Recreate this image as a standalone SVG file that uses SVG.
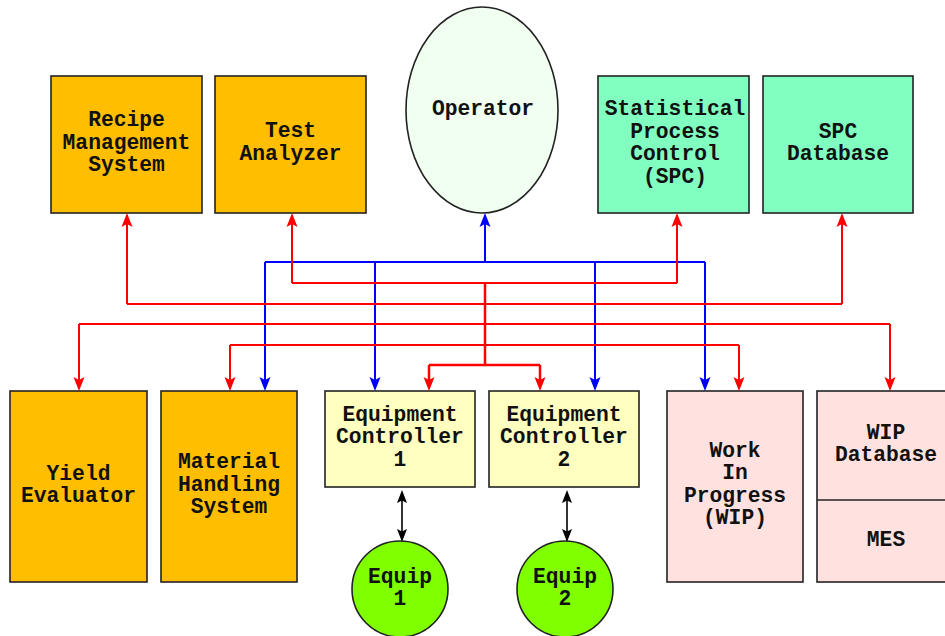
<svg xmlns="http://www.w3.org/2000/svg" width="945" height="636" viewBox="0 0 945 636">
<style>
.n{stroke:#222;stroke-width:1.6}
.org{fill:#FFBF00}
.grn{fill:#80FFC0}
.yel{fill:#FFFFC0}
.pnk{fill:#FFE2E0}
.t{font-family:"Liberation Mono","Courier New",monospace;font-weight:bold;font-size:21.3px;fill:#111;text-anchor:middle}
.r{fill:none;stroke:#FF0000;stroke-width:2}
.b{fill:none;stroke:#0000FF;stroke-width:2}
.k{fill:none;stroke:#000;stroke-width:1.6}
</style>
<defs>
<marker id="ar" viewBox="-6 -6 16 12" refX="0" refY="0" markerWidth="16" markerHeight="12" markerUnits="userSpaceOnUse" orient="auto"><path d="M9,0 L-5,-5.5 L-2,0 L-5,5.5 Z" fill="#FF0000"/></marker>
<marker id="ab" viewBox="-6 -6 16 12" refX="0" refY="0" markerWidth="16" markerHeight="12" markerUnits="userSpaceOnUse" orient="auto"><path d="M9,0 L-5,-5.5 L-2,0 L-5,5.5 Z" fill="#0000FF"/></marker>
<marker id="ak" viewBox="-6 -6 16 12" refX="0" refY="0" markerWidth="16" markerHeight="12" markerUnits="userSpaceOnUse" orient="auto-start-reverse"><path d="M9,0 L-4,-5 L-1.5,0 L-4,5 Z" fill="#000"/></marker>
</defs>
<rect width="945" height="636" fill="#fff"/>

<g id="recipe"><rect class="n org" x="51" y="76" width="151" height="137"/><text class="t" x="126.5" y="126">Recipe</text><text class="t" x="126.5" y="148.5">Management</text><text class="t" x="126.5" y="171">System</text></g>
<g id="test"><rect class="n org" x="215" y="76" width="151" height="137"/><text class="t" x="290.5" y="137">Test</text><text class="t" x="290.5" y="159.5">Analyzer</text></g>
<g id="operator"><ellipse class="n" fill="#F0FFF0" cx="482" cy="110" rx="76" ry="103"/><text class="t" x="483" y="115">Operator</text></g>
<g id="spc"><rect class="n grn" x="598" y="76" width="151" height="137"/><text class="t" x="675" y="115">Statistical</text><text class="t" x="675" y="137.5">Process</text><text class="t" x="675" y="160">Control</text><text class="t" x="675" y="182.5">(SPC)</text></g>
<g id="spcdb"><rect class="n grn" x="763" y="76" width="150" height="137"/><text class="t" x="838" y="137.5">SPC</text><text class="t" x="838" y="160">Database</text></g>

<g id="yield"><rect class="n org" x="10" y="391" width="137" height="191"/><text class="t" x="78.5" y="479.5">Yield</text><text class="t" x="78.5" y="502">Evaluator</text></g>
<g id="material"><rect class="n org" x="161" y="391" width="136" height="191"/><text class="t" x="229" y="468">Material</text><text class="t" x="229" y="490.5">Handling</text><text class="t" x="229" y="513">System</text></g>
<g id="ec1"><rect class="n yel" x="325" y="391" width="150" height="96"/><text class="t" x="400" y="420.5">Equipment</text><text class="t" x="400" y="443">Controller</text><text class="t" x="400" y="465.5">1</text></g>
<g id="ec2"><rect class="n yel" x="489" y="391" width="150" height="96"/><text class="t" x="564" y="420.5">Equipment</text><text class="t" x="564" y="443">Controller</text><text class="t" x="564" y="465.5">2</text></g>
<g id="wip"><rect class="n pnk" x="667" y="391" width="136" height="191"/><text class="t" x="735" y="456.5">Work</text><text class="t" x="735" y="479">In</text><text class="t" x="735" y="501.5">Progress</text><text class="t" x="735" y="524">(WIP)</text></g>
<g id="wipdb"><rect class="n pnk" x="817" y="391" width="138" height="191"/><line class="n" x1="817" y1="500" x2="955" y2="500"/><text class="t" x="886" y="438.5">WIP</text><text class="t" x="886" y="461">Database</text><text class="t" x="886" y="545.5">MES</text></g>
<g id="equip1"><circle class="n" fill="#80FF00" cx="400" cy="589" r="48"/><text class="t" x="400" y="582.5">Equip</text><text class="t" x="400" y="604.5">1</text></g>
<g id="equip2"><circle class="n" fill="#80FF00" cx="565" cy="589" r="48"/><text class="t" x="565" y="582.5">Equip</text><text class="t" x="565" y="604.5">2</text></g>

<g id="connectors">
<path class="b" d="M265,262 H705"/>
<path class="b" d="M485,262 V222" marker-end="url(#ab)"/>
<path class="b" d="M265,262 V382" marker-end="url(#ab)"/>
<path class="b" d="M375,262 V382" marker-end="url(#ab)"/>
<path class="b" d="M595,262 V382" marker-end="url(#ab)"/>
<path class="b" d="M705,262 V382" marker-end="url(#ab)"/>

<path class="r" d="M485,283 V365" style="stroke-width:2.5"/>
<path class="r" d="M292,283 H677"/>
<path class="r" d="M292,283 V222" marker-end="url(#ar)"/>
<path class="r" d="M677,283 V222" marker-end="url(#ar)"/>
<path class="r" d="M127,304 H842"/>
<path class="r" d="M127,304 V222" marker-end="url(#ar)"/>
<path class="r" d="M842,304 V222" marker-end="url(#ar)"/>
<path class="r" d="M79,324 H890"/>
<path class="r" d="M79,324 V382" marker-end="url(#ar)"/>
<path class="r" d="M890,324 V382" marker-end="url(#ar)"/>
<path class="r" d="M230,345 H739"/>
<path class="r" d="M230,345 V382" marker-end="url(#ar)"/>
<path class="r" d="M739,345 V382" marker-end="url(#ar)"/>
<path class="r" d="M429,365 H540" style="stroke-width:2.5"/>
<path class="r" d="M429,365 V382" style="stroke-width:2.5" marker-end="url(#ar)"/>
<path class="r" d="M540,365 V382" style="stroke-width:2.5" marker-end="url(#ar)"/>

<path class="k" d="M402,499 V533" marker-start="url(#ak)" marker-end="url(#ak)"/>
<path class="k" d="M567,499 V533" marker-start="url(#ak)" marker-end="url(#ak)"/>
</g>
</svg>
